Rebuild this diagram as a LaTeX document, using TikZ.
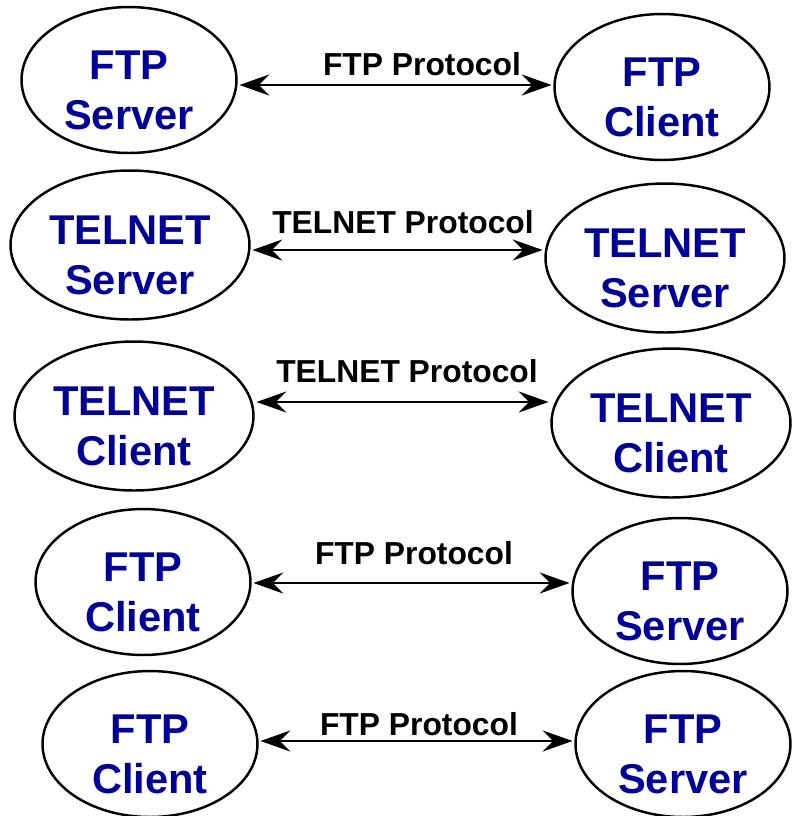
\documentclass[tikz,border=0pt]{standalone}
\usepackage{fontspec}
\setmainfont{Liberation Sans}
\usetikzlibrary{shapes.geometric,arrows.meta}
\definecolor{protblue}{RGB}{0,0,153}
\newcommand{\appname}[2]{\rule{0pt}{1.2em}#1\\#2}

\begin{document}
\begin{tikzpicture}[x=0.02cm, y=-0.02cm,
	app/.style={ellipse, draw, line width=1.4pt, inner sep=0pt, align=center,
		text=protblue, font=\fontsize{23.7}{28.5}\selectfont\bfseries},
	ftpapp/.style={app, minimum width=4.30cm, minimum height=2.92cm},
	telapp/.style={app, minimum width=4.78cm, minimum height=2.98cm},
	proto/.style={anchor=base, font=\fontsize{18.1}{22}\selectfont\bfseries},
	link/.style={line width=1.4pt, shorten <=1pt, shorten >=1pt,
		{Stealth[length=17pt,width=12pt,inset=6pt]}-{Stealth[length=17pt,width=12pt,inset=6pt]}}]

	\useasboundingbox (0,0) rectangle (792,816);

	%ftp server and client
	\node[ftpapp] (ftpServerA) at (129,80) {\appname{FTP}{Server}};
	\node[ftpapp] (ftpClientA) at (662,87) {\appname{FTP}{Client}};
	\coordinate (lineA) at (0,85);
	\draw[link] (ftpServerA.east |- lineA) -- (ftpClientA.west |- lineA);
	\node[proto] (protoA) at (422,75) {FTP Protocol};

	%telnet servers
	\node[telapp] (telServerL) at (130,245) {\appname{TELNET}{Server}};
	\node[telapp] (telServerR) at (665,258) {\appname{TELNET}{Server}};
	\coordinate (lineB) at (0,250);
	\draw[link] (telServerL.east |- lineB) -- (telServerR.west |- lineB);
	\node[proto] (protoB) at (403,233) {TELNET Protocol};

	%telnet clients
	\node[telapp] (telClientL) at (134,416) {\appname{TELNET}{Client}};
	\node[telapp] (telClientR) at (671,423) {\appname{TELNET}{Client}};
	\coordinate (lineC) at (0,402);
	\draw[link] (telClientL.east |- lineC) -- (telClientR.west |- lineC);
	\node[proto] (protoC) at (407,382) {TELNET Protocol};

	%ftp client and server
	\node[ftpapp] (ftpClientB) at (143,582) {\appname{FTP}{Client}};
	\node[ftpapp] (ftpServerB) at (680,591) {\appname{FTP}{Server}};
	\coordinate (lineD) at (0,583);
	\draw[link] (ftpClientB.east |- lineD) -- (ftpServerB.west |- lineD);
	\node[proto] (protoD) at (414,564) {FTP Protocol};

	\node[ftpapp] (ftpClientC) at (150,744) {\appname{FTP}{Client}};
	\node[ftpapp] (ftpServerC) at (683,744) {\appname{FTP}{Server}};
	\coordinate (lineE) at (0,741);
	\draw[link] (ftpClientC.east |- lineE) -- (ftpServerC.west |- lineE);
	\node[proto] (protoE) at (419,735) {FTP Protocol};

\end{tikzpicture}
\end{document}
